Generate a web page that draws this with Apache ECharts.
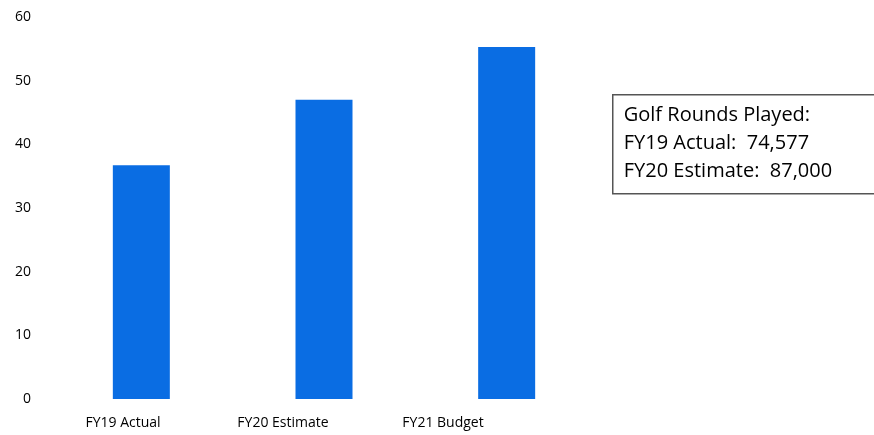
<!DOCTYPE html>
<html>
<head>
<meta charset="utf-8">
<script src="https://cdn.jsdelivr.net/npm/echarts@6/dist/echarts.min.js"></script>
<style>
  html, body { margin: 0; padding: 0; background: #fff; }
  #chart { width: 874px; height: 435px; }
</style>
</head>
<body>
<div id="chart"></div>
<script>
// Golf rounds revenue by fiscal year
var categories = ['FY19 Actual', 'FY20 Estimate', 'FY21 Budget'];
var values = [36.7, 47.0, 55.3];
var yTicks = [0, 10, 20, 30, 40, 50, 60];
var noteLines = ['Golf Rounds Played:', 'FY19 Actual:  74,577', 'FY20 Estimate:  87,000'];

var font = '"Open Sans", "Noto Sans", sans-serif';
var chart = echarts.init(document.getElementById('chart'), null, { renderer: 'canvas' });

chart.setOption({
  animation: false,
  backgroundColor: '#ffffff',
  grid: [
    // bars
    { left: 50, top: 17, width: 548, height: 382 },
    // category labels
    { left: 43, top: 17, width: 480, height: 382 }
  ],
  xAxis: [
    {
      type: 'category', gridIndex: 0, data: categories,
      axisLine: { show: false }, axisTick: { show: false }, axisLabel: { show: false }
    },
    {
      type: 'category', gridIndex: 1, data: categories,
      axisLine: { show: false }, axisTick: { show: false },
      axisLabel: { color: '#000', fontFamily: font, fontSize: 14, margin: 17 }
    }
  ],
  yAxis: [
    {
      type: 'value', gridIndex: 0, min: yTicks[0], max: yTicks[yTicks.length - 1], interval: 10,
      splitLine: { show: false }, axisLine: { show: false }, axisTick: { show: false },
      axisLabel: { color: '#000', fontFamily: font, fontSize: 14, margin: 19, padding: [4, 0, 0, 0] }
    },
    {
      type: 'value', gridIndex: 1, min: 0, max: 60, show: false
    }
  ],
  series: [{
    type: 'bar',
    xAxisIndex: 0, yAxisIndex: 0,
    data: values,
    barWidth: 57,
    itemStyle: { color: '#0a6de3' }
  }],
  graphic: [{
    type: 'group',
    left: 612, top: 94,
    children: [
      {
        type: 'rect',
        shape: { x: 0, y: 0, width: 300, height: 99 },
        style: { fill: '#fff', stroke: '#555', lineWidth: 1.5 }
      },
      {
        type: 'text', left: 11, top: 7,
        style: {
          text: noteLines.join('\n'),
          font: '20px ' + font,
          fill: '#000',
          lineHeight: 28
        }
      }
    ]
  }]
});
</script>
</body>
</html>
